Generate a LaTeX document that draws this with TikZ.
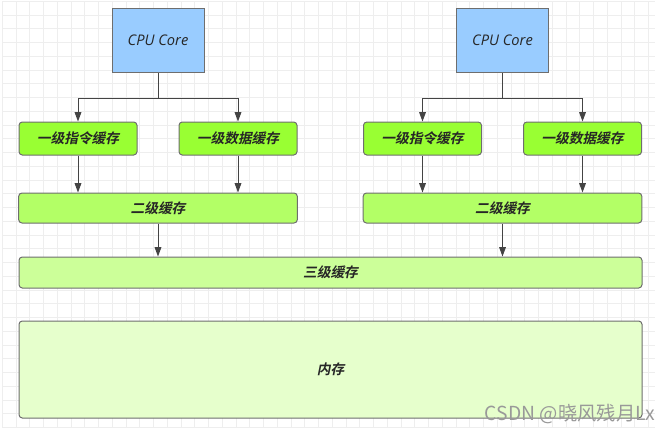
\documentclass[tikz,border=0pt]{standalone}
\usepackage{fontspec}
\setmainfont{Open Sans}
\newfontfamily\cjk[FakeSlant=0.2]{Noto Sans CJK SC Bold}
\newfontfamily\cjkplain{Noto Sans CJK SC}
\usetikzlibrary{arrows.meta}
\definecolor{cpublue}{HTML}{99CCFF}
\definecolor{lonegreen}{HTML}{99FF33}
\definecolor{ltwogreen}{HTML}{B3FF66}
\definecolor{lthreegreen}{HTML}{CCFF99}
\definecolor{memgreen}{HTML}{E6FFCC}
\definecolor{boxborder}{HTML}{6E6E6E}
\definecolor{arrowgray}{HTML}{444444}
\definecolor{gridgray}{HTML}{EEEEEE}

\begin{document}
\begin{tikzpicture}[
            x = 0.75pt, y = -0.75pt, % one unit is one pixel, y going down
            > = {Triangle[length=7pt, width=5pt]}, % arrow head style
            line width = 0.75pt, % line style
            every node/.style = {text = black!85, inner sep = 0pt}
        ]

        \tikzstyle{gridline}=[draw = gridgray, line width = 0.6pt]
        \tikzstyle{cpu}=[
            draw = boxborder,
            fill = cpublue,
            minimum width = 69pt,
            minimum height = 48pt,
            font = \fontsize{11}{13}\selectfont\itshape
        ]
        \tikzstyle{cache}=[
            draw = boxborder,
            rounded corners = 2.5pt,
            font = \fontsize{10.3}{12}\selectfont\cjk
        ]
        \tikzstyle{lone}=[cache, fill = lonegreen, minimum width = 88.5pt, minimum height = 24.75pt]
        \tikzstyle{ltwo}=[cache, fill = ltwogreen, minimum width = 209pt, minimum height = 22.5pt]
        \tikzstyle{lthree}=[cache, fill = lthreegreen, minimum width = 467.25pt, minimum height = 23.25pt]
        \tikzstyle{memory}=[cache, fill = memgreen, minimum width = 467.25pt, minimum height = 72.75pt]
        \tikzstyle{csdnmark}=[text = black!40, font = \fontsize{14.5}{16}\selectfont\cjkplain]

        % background grid
        \useasboundingbox (0,0) rectangle (663,432);
        \foreach \gx in {0,...,47}
            \draw[gridline] (2.25+13.75*\gx, 1) -- (2.25+13.75*\gx, 428);
        \foreach \gy in {0,...,31}
            \draw[gridline] (2, 1.25+13.75*\gy) -- (655, 1.25+13.75*\gy);

        \node[cpu] (cpuA) at (158, 40.5) {CPU Core};
        \node[cpu] (cpuB) at (502.5, 40.5) {CPU Core};
        \node[lone] (l1iA) at (78, 138.5) {一级指令缓存};
        \node[lone] (l1dA) at (238, 138.5) {一级数据缓存};
        \node[lone] (l1iB) at (422.5, 138.5) {一级指令缓存};
        \node[lone] (l1dB) at (582.5, 138.5) {一级数据缓存};
        \node[ltwo] (l2A) at (158, 208) {二级缓存};
        \node[ltwo] (l2B) at (502.5, 208) {二级缓存};
        \node[lthree] (l3) at (330.5, 272.5) {三级缓存};
        \node[memory] (mem) at (330.5, 369.5) {内存};
        \node[csdnmark, anchor = east] (csdn) at (656, 414) {CSDN @晓风残月Lx};

        \draw[->, arrowgray] (cpuA.south) -- ++(0,25) -| (l1iA.north);
        \draw[->, arrowgray] (cpuA.south) -- ++(0,25) -| (l1dA.north);
        \draw[->, arrowgray] (cpuB.south) -- ++(0,25) -| (l1iB.north);
        \draw[->, arrowgray] (cpuB.south) -- ++(0,25) -| (l1dB.north);
        \path[->, arrowgray] (l1iA.south) edge (l1iA.south |- l2A.north);
        \path[->, arrowgray] (l1dA.south) edge (l1dA.south |- l2A.north);
        \path[->, arrowgray] (l1iB.south) edge (l1iB.south |- l2B.north);
        \path[->, arrowgray] (l1dB.south) edge (l1dB.south |- l2B.north);
        \path[->, arrowgray] (l2A.south) edge (l2A.south |- l3.north);
        \path[->, arrowgray] (l2B.south) edge (l2B.south |- l3.north);
\end{tikzpicture}
\end{document}
